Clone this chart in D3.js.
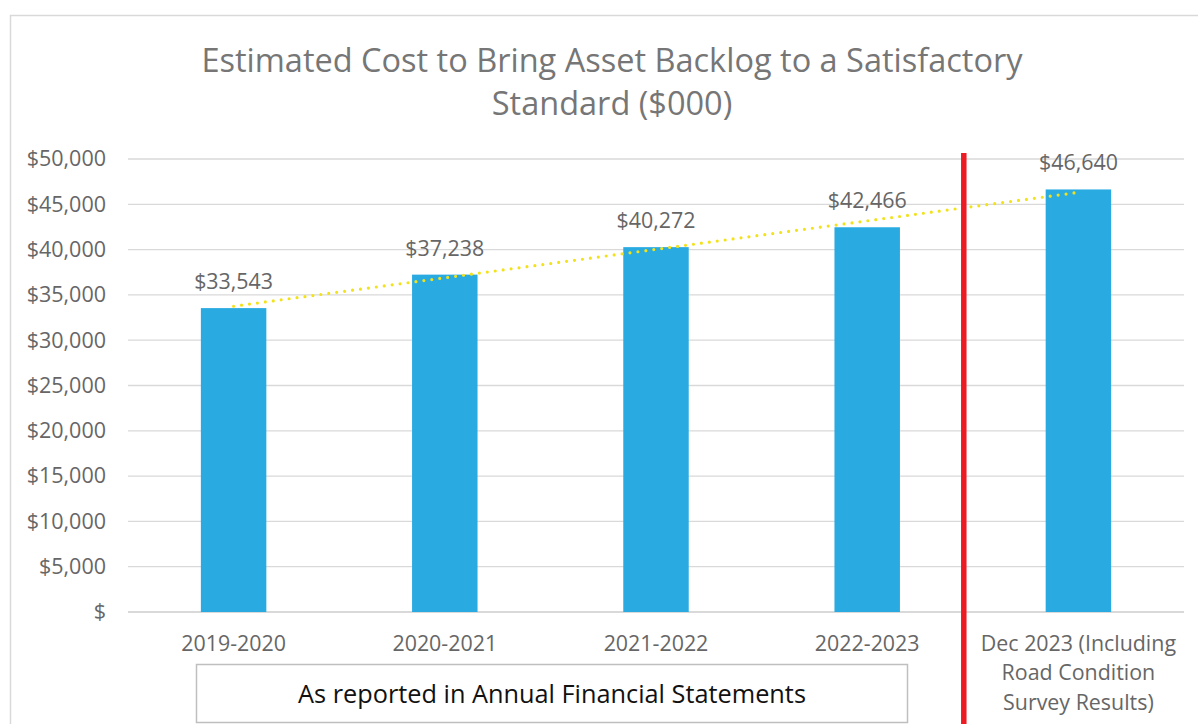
<!DOCTYPE html>
<html><head><meta charset="utf-8">
<script src="https://cdn.jsdelivr.net/npm/d3@7"></script>
<style>html,body{margin:0;padding:0;background:#fff;}svg{display:block;}</style>
</head><body>
<script>
const categories = ["2019-2020", "2020-2021", "2021-2022", "2022-2023", "Dec 2023 (Including Road Condition Survey Results)"];
const categoryLines = [["2019-2020"], ["2020-2021"], ["2021-2022"], ["2022-2023"], ["Dec 2023 (Including", "Road Condition", "Survey Results)"]];
const values = [33543, 37238, 40272, 42466, 46640];
const yTicks = [0, 5000, 10000, 15000, 20000, 25000, 30000, 35000, 40000, 45000, 50000];
const titleLines = ["Estimated Cost to Bring Asset Backlog to a Satisfactory", "Standard ($000)"];
const boxLabel = "As reported in Annual Financial Statements";

const W = 1198, H = 724;
const font = "'Open Sans', 'Noto Sans', sans-serif";
const svg = d3.select("body").append("svg").attr("width", W).attr("height", H);

// outer chart border
svg.append("rect").attr("x", 10.5).attr("y", 15.5).attr("width", W).attr("height", H)
  .attr("fill", "none").attr("stroke", "#d9d9d9").attr("stroke-width", 1.5);

const x = d3.scaleBand().domain(categories).range([128, 1184]).padding(0);
const y = d3.scaleLinear().domain([0, 50000]).range([612, 159]);
const barW = x.bandwidth() * 0.31;

// title
svg.append("text").attr("x", 612).attr("y", 72).attr("text-anchor", "middle")
  .attr("font-family", font).attr("font-size", 32.5).attr("fill", "#767676")
  .selectAll("tspan").data(titleLines).join("tspan")
  .attr("x", 612).attr("dy", (d, i) => i === 0 ? 0 : 43).text(d => d);

// gridlines
svg.append("g").selectAll("line").data(yTicks).join("line")
  .attr("x1", 128).attr("x2", 1184)
  .attr("y1", d => y(d)).attr("y2", d => y(d))
  .attr("stroke", "#d9d9d9").attr("stroke-width", d => d === 0 ? 2 : 1.3);

// y axis labels
const fmt = d => d === 0 ? "$" : "$" + d3.format(",")(d);
const yAxis = d3.axisLeft(y).tickValues(yTicks).tickFormat(fmt).tickSize(0).tickPadding(0);
const gy = svg.append("g").attr("transform", "translate(106,0)").call(yAxis);
gy.select(".domain").remove();
gy.selectAll("text").attr("font-family", font).attr("font-size", 21.5).attr("fill", "#666");

// bars
svg.append("g").selectAll("rect").data(values).join("rect")
  .attr("x", (d, i) => x(categories[i]) + x.bandwidth() / 2 - barW / 2)
  .attr("y", d => y(d))
  .attr("width", barW)
  .attr("height", d => y(0) - y(d))
  .attr("fill", "#29abe2");

// data labels
svg.append("g").selectAll("text").data(values).join("text")
  .attr("x", (d, i) => x(categories[i]) + x.bandwidth() / 2)
  .attr("y", d => y(d) - 19)
  .attr("text-anchor", "middle")
  .attr("font-family", font).attr("font-size", 21.4).attr("fill", "#666")
  .text(d => "$" + d3.format(",")(d));

// linear trendline (least squares over the series)
const n = values.length;
const xs = d3.range(n);
const mx = d3.mean(xs), my = d3.mean(values);
const slope = d3.sum(xs, i => (i - mx) * (values[i] - my)) / d3.sum(xs, i => (i - mx) ** 2);
const icpt = my - slope * mx;
const cx = i => x(categories[i]) + x.bandwidth() / 2;
svg.append("line")
  .attr("x1", cx(0)).attr("y1", y(icpt))
  .attr("x2", cx(n - 1)).attr("y2", y(icpt + slope * (n - 1)))
  .attr("stroke", "#f2e21c").attr("stroke-width", 3.2)
  .attr("stroke-linecap", "round").attr("stroke-dasharray", "0 8");

// x labels
const xl = svg.append("g").selectAll("text").data(categoryLines).join("text")
  .attr("text-anchor", "middle")
  .attr("font-family", font).attr("font-size", 21.4).attr("fill", "#666");
xl.each(function(lines, i) {
  d3.select(this).selectAll("tspan").data(lines).join("tspan")
    .attr("x", cx(i)).attr("y", (d, j) => 651 + j * 29.3).text(d => d);
});

// red divider
const divX = x(categories[4]) - 9;
svg.append("line").attr("x1", divX).attr("x2", divX).attr("y1", 153).attr("y2", H)
  .attr("stroke", "#ed1c24").attr("stroke-width", 5.5);

// annotation box
svg.append("rect").attr("x", 196.5).attr("y", 664.5).attr("width", 711).attr("height", 58)
  .attr("fill", "#fff").attr("stroke", "#bfbfbf").attr("stroke-width", 1.5);
svg.append("text").attr("x", 552).attr("y", 703).attr("text-anchor", "middle")
  .attr("font-family", font).attr("font-size", 25.3).attr("fill", "#111").text(boxLabel);
</script>
</body></html>
